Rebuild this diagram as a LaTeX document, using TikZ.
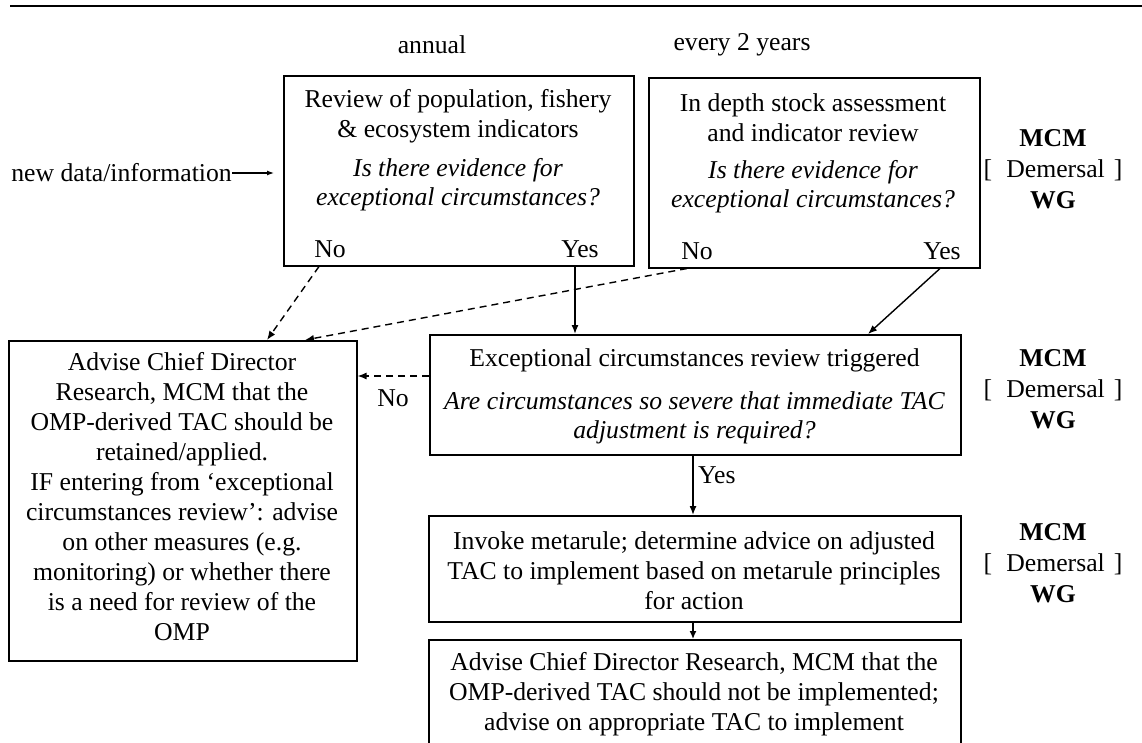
\documentclass[tikz,border=0pt]{standalone}
\usepackage{fontspec}
\setmainfont{Liberation Serif}
\usetikzlibrary{arrows.meta,calc}
\begin{document}
\begin{tikzpicture}[x=1pt,y=-1pt,
  box/.style={draw,line width=1.5pt,inner sep=0pt,anchor=north west},
  txt/.style={font=\fontsize{25.7}{30}\selectfont,inner sep=0pt,align=center},
  itxt/.style={txt,font=\fontsize{25.7}{29}\selectfont\itshape},
  wg/.style={txt,font=\fontsize{25.7}{31}\selectfont},
  conn/.style={line width=1.4pt,-{Latex[length=9pt,width=7pt]}},
  dconn/.style={conn,dash pattern=on 7pt off 5pt}]
\useasboundingbox (0,0) rectangle (1142,742);
\clip (0,0) rectangle (1142,742);

% top rule
\draw[line width=2.6pt] (10,6) -- (1142,6);

% column headers
\node[txt] (hAnnual) at (432,45) {annual};
\node[txt] (hTwo) at (742,45) {every 2 years};

% box A
\node[box,minimum width=350pt,minimum height=190pt] (A) at (283,75) {};
\node[txt] (A1) at (458,116) {Review of population, fishery\\ \& ecosystem indicators};
\node[itxt] (A2) at (458,185) {Is there evidence for\\exceptional circumstances?};
\node[txt] (noA) at (330,249) {No};
\node[txt] (yesA) at (580,249) {Yes};

% box B
\node[box,minimum width=331pt,minimum height=190pt] (B) at (648,77) {};
\node[txt] (B1) at (813,118) {In depth stock assessment\\and indicator review};
\node[itxt] (B2) at (813,187) {Is there evidence for\\exceptional circumstances?};
\node[txt] (noB) at (697,251) {No};
\node[txt] (yesB) at (942,251) {Yes};

% new data
\node[txt,anchor=east] (nd) at (232,173) {new data/information};
\draw[line width=1.2pt,-{Latex[length=7pt,width=5pt]},shorten >=9pt] (nd.east) -- (nd.east -| A.west);

% box C
\node[box,minimum width=348pt,minimum height=320pt] (C) at (8,340) {};
\node[txt] (Ct) at (182,497) {Advise Chief Director\\Research, MCM that the\\OMP-derived TAC should be\\retained/applied.\\IF entering from ‘exceptional\\circumstances review’: advise\\on other measures (e.g.\\monitoring) or whether there\\is a need for review of the\\OMP};

% box D
\node[box,minimum width=531pt,minimum height=120pt] (D) at (429,334) {};
\node[txt] (D1) at (694.5,360) {Exceptional circumstances review triggered};
\node[itxt] (D2) at (694.5,418) {Are circumstances so severe that immediate TAC\\adjustment is required?};

% box E
\node[box,minimum width=532pt,minimum height=106pt] (E) at (428,515) {};
\node[txt] (Et) at (694,571) {Invoke metarule; determine advice on adjusted\\TAC to implement based on metarule principles\\for action};

% box F (runs off the bottom)
\node[box,minimum width=532pt,minimum height=140pt] (F) at (428,639) {};
\node[txt,anchor=north] (Ft) at (694,652) {Advise Chief Director Research, MCM that the\\OMP-derived TAC should not be implemented;\\advise on appropriate TAC to implement};

% side labels
\node[wg] (wg1) at (1053,169) {\textbf{MCM}\\{[}\hspace{0.55em}Demersal\hspace{0.35em}{]}\\\textbf{WG}};
\node[wg] (wg2) at (1053,389) {\textbf{MCM}\\{[}\hspace{0.55em}Demersal\hspace{0.35em}{]}\\\textbf{WG}};
\node[wg] (wg3) at (1053,563) {\textbf{MCM}\\{[}\hspace{0.55em}Demersal\hspace{0.35em}{]}\\\textbf{WG}};

% connectors
\coordinate (aNo) at ($(A.south west)+(36,0)$);
\coordinate (cIn1) at ($(C.north west)+(259,0)$);
\coordinate (bNo) at ($(B.south west)+(39,0)$);
\coordinate (cIn2) at ($(C.north west)+(297,0)$);
\draw[dconn] (aNo) -- (cIn1);
\draw[dconn] (bNo) -- (cIn2);

\coordinate (dOut) at ($(D.north west)+(0,42)$);
\draw[dconn] (dOut) -- (dOut -| C.east);
\node[txt] (noD) at (393,398) {No};

\coordinate (aYes) at ($(A.south west)+(292,0)$);
\draw[conn] (aYes) -- (aYes |- D.north);

\coordinate (bYes) at ($(B.south west)+(292,0)$);
\coordinate (dIn) at ($(D.north west)+(439,0)$);
\draw[conn] (bYes) -- (dIn);

\coordinate (dYes) at ($(D.south west)+(264,0)$);
\draw[conn] (dYes) -- (dYes |- E.north);
\node[txt,anchor=west] (yesD) at (698,475) {Yes};

\coordinate (eOut) at ($(E.south west)+(265,0)$);
\draw[line width=1.4pt,-{Latex[length=8pt,width=7pt]}] (eOut) -- (eOut |- F.north);
\end{tikzpicture}
\end{document}
